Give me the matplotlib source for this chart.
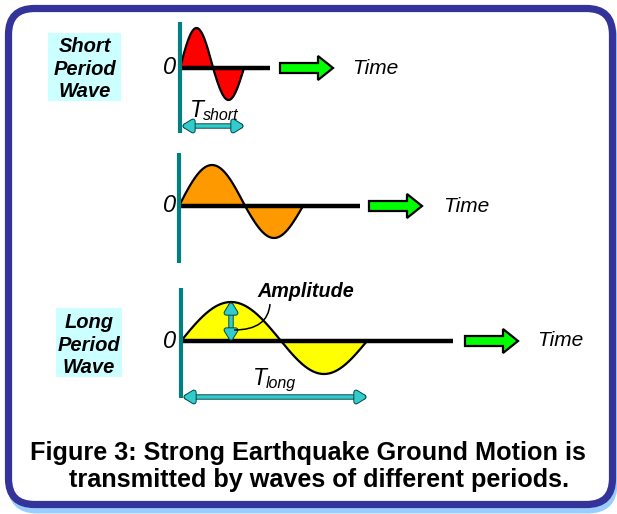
"""Short vs long period wave diagram (Figure 3), drawn in pixel coordinates."""

import matplotlib
matplotlib.use("Agg")
import matplotlib.pyplot as plt
import numpy as np
from matplotlib.patches import FancyArrow, FancyArrowPatch, FancyBboxPatch, PathPatch
from matplotlib.path import Path
import matplotlib.patheffects as pe

plt.rcParams["font.family"] = ["Liberation Sans", "DejaVu Sans"]

W, H = 617, 514

# ---------- data (pixel units) ----------
wave_names = ["short", "medium", "long"]
wave_colors = ["#ff0000", "#ff9900", "#ffff00"]
axis_x = [180, 179, 181]
base_y = [68, 206, 341]
axis_top = [22, 153, 288]
axis_bottom = [133, 263, 398]
half1 = [33, 66, 100]        # length of first (crest) half
half2 = [31, 58, 86]         # length of second (trough) half
crest = [40, 41, 39]
trough = [32, 32, 33]
baseline_end = [270, 360, 453]
time_arrow_x = [280, 369, 465]
time_label_x = [352, 443, 537]

side_labels = [["Short", "Period", "Wave"], ["Long", "Period", "Wave"]]
side_boxes = [(48, 33, 73, 68), (56, 308, 66, 69)]
side_baselines = [[52, 75, 97], [328, 351, 373]]
side_cx = [85, 89]

period_text = ["short", "long"]
period_arrow_y = [126, 397]
period_T_x = [190, 253]
period_T_y = [117, 385]

caption = ["Figure 3: Strong Earthquake Ground Motion is",
           "transmitted by waves of different periods."]
caption_x = [30, 69]
caption_y = [460, 487]

TEAL = "#008080"
ARROW_TEAL = "#33cccc"


def wave_xy(x0, base, h1, h2, a1, a2, n=120):
    t = np.linspace(0, 1, n)
    x = np.concatenate([x0 + h1 * t, x0 + h1 + h2 * t[1:]])
    y = np.concatenate([base - a1 * np.sin(np.pi * t), base + a2 * np.sin(np.pi * t[1:])])
    return x, y


def double_arrow(ax, p0, p1):
    a = FancyArrowPatch(p0, p1, arrowstyle="<|-|>,head_length=5.5,head_width=3.4",
                        color=ARROW_TEAL, lw=2.5, shrinkA=0, shrinkB=0, zorder=6,
                        mutation_scale=1.0)
    a.set_path_effects([pe.Stroke(linewidth=3.9, foreground="#004848"), pe.Normal()])
    ax.add_patch(a)


fig = plt.figure(figsize=(W / 100, H / 100), dpi=100)
ax = fig.add_axes([0, 0, 1, 1])
ax.set_xlim(0, W)
ax.set_ylim(H, 0)
ax.axis("off")

# ---------- frame ----------
ax.add_patch(FancyBboxPatch((11, 14), 603, 496, boxstyle="round,pad=0,rounding_size=26",
                            fc="#99ccff", ec="#99ccff", lw=5, zorder=0))
ax.add_patch(FancyBboxPatch((8.5, 8.5), 604, 496, boxstyle="round,pad=0,rounding_size=26",
                            fc="white", ec="#333399", lw=5.2, zorder=1))

# ---------- waves ----------
for i in range(3):
    x, y = wave_xy(axis_x[i], base_y[i], half1[i], half2[i], crest[i], trough[i])
    ax.fill_between(x, y, base_y[i], color=wave_colors[i], lw=0, zorder=2)
    ax.plot(x, y, color="black", lw=1.6, zorder=3)
    ax.plot([axis_x[i], baseline_end[i]], [base_y[i], base_y[i]], color="black",
            lw=3.2, solid_capstyle="butt", zorder=4)
    ax.plot([axis_x[i], axis_x[i]], [axis_top[i], axis_bottom[i]], color=TEAL,
            lw=3, solid_capstyle="butt", zorder=5)
    ax.text(176, base_y[i], "0", fontsize=17, style="italic", ha="right", va="center", zorder=5)
    ax.add_patch(FancyArrow(time_arrow_x[i], base_y[i], 53, 0, width=10, head_width=24,
                            head_length=15, length_includes_head=True,
                            fc="#00ff00", ec="black", lw=1.6, zorder=5))
    ax.text(time_label_x[i], base_y[i], "Time", fontsize=15, style="italic",
            ha="left", va="center", zorder=5)

# ---------- side labels ----------
for lines, box, bls, cx in zip(side_labels, side_boxes, side_baselines, side_cx):
    ax.add_patch(plt.Rectangle(box[:2], box[2], box[3], fc="#ccffff", ec="none", zorder=2))
    for txt, bl in zip(lines, bls):
        ax.text(cx, bl, txt, fontsize=14.5, weight="bold", style="italic",
                ha="center", va="baseline", zorder=3)

# ---------- period arrows ----------
short_end = axis_x[0] + half1[0] + half2[0]
long_end = axis_x[2] + half1[2] + half2[2]
period_ends = [short_end, long_end]
for k, idx in enumerate([0, 2]):
    double_arrow(ax, (axis_x[idx] + 2, period_arrow_y[k]), (period_ends[k], period_arrow_y[k]))
    ax.text(period_T_x[k], period_T_y[k], "T", fontsize=16.5, style="italic",
            ha="left", va="baseline", zorder=6)
    ax.text(period_T_x[k] + 13, period_T_y[k] + 3, period_text[k], fontsize=11.5,
            style="italic", ha="left", va="baseline", zorder=6)

# ---------- amplitude ----------
peak_x = axis_x[2] + half1[2] / 2
double_arrow(ax, (peak_x, base_y[2] - crest[2]), (peak_x, base_y[2]))
leader = Path([(peak_x + 3, 330), (268, 330), (270, 304)],
              [Path.MOVETO, Path.CURVE3, Path.CURVE3])
ax.add_patch(PathPatch(leader, fc="none", ec="black", lw=1.1, zorder=6))
ax.text(257, 297, "Amplitude", fontsize=14.2, weight="bold", style="italic",
        ha="left", va="baseline", zorder=6)

# ---------- caption ----------
for txt, cx, cy in zip(caption, caption_x, caption_y):
    ax.text(cx, cy, txt, fontsize=18.2, weight="bold", ha="left", va="baseline", zorder=6)

fig.savefig("out.png", dpi=100)
